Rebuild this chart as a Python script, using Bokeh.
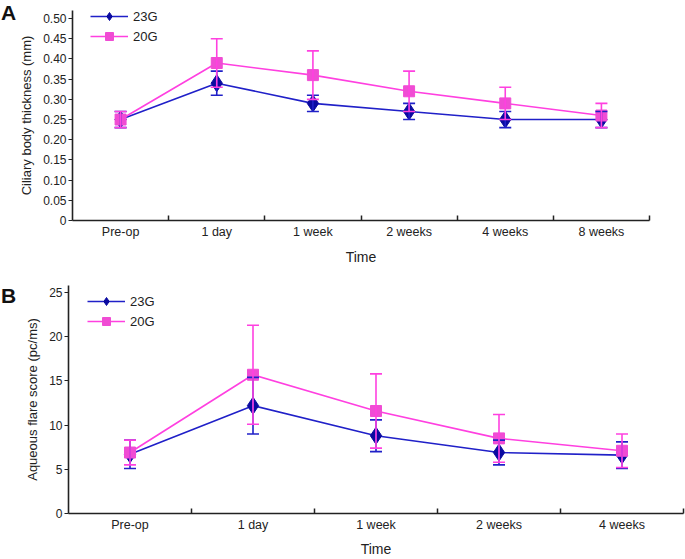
from bokeh.plotting import figure
from bokeh.models import (ColumnDataSource, Whisker, TeeHead, FixedTicker, Range1d,
                          Legend, LegendItem, CustomJSTickFormatter, Div)
from bokeh.layouts import column, row
from bokeh.embed import file_html
from bokeh.resources import INLINE

# ---------------- data ----------------
cats_a = ["Pre-op", "1 day", "1 week", "2 weeks", "4 weeks", "8 weeks"]
a_23g = [0.25, 0.34, 0.29, 0.27, 0.25, 0.25]
a_23g_err = [0.02, 0.03, 0.02, 0.02, 0.02, 0.02]
a_20g = [0.25, 0.39, 0.36, 0.32, 0.29, 0.26]
a_20g_err = [0.02, 0.06, 0.06, 0.05, 0.04, 0.03]
a_yticks = [0, 0.05, 0.10, 0.15, 0.20, 0.25, 0.30, 0.35, 0.40, 0.45, 0.50]

cats_b = ["Pre-op", "1 day", "1 week", "2 weeks", "4 weeks"]
b_23g = [6.7, 12.2, 8.8, 6.9, 6.6]
b_23g_err = [1.6, 3.2, 1.8, 1.4, 1.5]
b_20g = [6.9, 15.7, 11.6, 8.5, 7.1]
b_20g_err = [1.4, 5.6, 4.2, 2.7, 1.9]
b_yticks = [0, 5, 10, 15, 20, 25]

BLUE_LINE = "#2020C8"
BLUE_MARK = "#0A0AA0"
PINK_LINE = "#FF40E0"
PINK_MARK = "#F04CD4"
FONT = "Liberation Sans"
LETTER_W = 16


def make_panel(cats, y1, e1, y2, e2, yticks, ymax, ylabel,
               height, b_top, b_bottom, b_left, b_right, fmt_js,
               legend_xy, tick_standoff, label_standoff):
    n = len(cats)
    xs = [i + 0.5 for i in range(n)]
    p = figure(width=685 - LETTER_W, height=height, output_backend="svg",
               toolbar_location=None,
               x_range=Range1d(0, n), y_range=Range1d(0, ymax),
               min_border_top=b_top, min_border_bottom=b_bottom,
               min_border_left=b_left, min_border_right=b_right)
    p.outline_line_color = None
    p.grid.visible = False
    p.background_fill_color = "white"

    s1 = ColumnDataSource(dict(x=xs, y=y1, lo=[a - b for a, b in zip(y1, e1)],
                               hi=[a + b for a, b in zip(y1, e1)]))
    s2 = ColumnDataSource(dict(x=xs, y=y2, lo=[a - b for a, b in zip(y2, e2)],
                               hi=[a + b for a, b in zip(y2, e2)]))

    l1 = p.line("x", "y", source=s1, line_color=BLUE_LINE, line_width=1.6)
    w1 = Whisker(base="x", lower="lo", upper="hi", source=s1, dimension="height",
                 line_color=BLUE_LINE, line_width=1.6, level="glyph",
                 upper_head=TeeHead(size=12, line_color=BLUE_LINE, line_width=1.6),
                 lower_head=TeeHead(size=12, line_color=BLUE_LINE, line_width=1.6))
    p.add_layout(w1)
    m1 = p.scatter("x", "y", source=s1, marker="diamond", size=17,
                   fill_color=BLUE_MARK, line_color=BLUE_MARK)

    l2 = p.line("x", "y", source=s2, line_color=PINK_LINE, line_width=1.6)
    w2 = Whisker(base="x", lower="lo", upper="hi", source=s2, dimension="height",
                 line_color=PINK_LINE, line_width=1.6, level="glyph",
                 upper_head=TeeHead(size=12, line_color=PINK_LINE, line_width=1.6),
                 lower_head=TeeHead(size=12, line_color=PINK_LINE, line_width=1.6))
    p.add_layout(w2)
    m2 = p.scatter("x", "y", source=s2, marker="square", size=11,
                   fill_color=PINK_MARK, line_color=PINK_MARK)

    # x axis: labels at centres, tick marks at category boundaries
    xa = p.xaxis[0]
    xa.ticker = FixedTicker(ticks=xs, minor_ticks=list(range(1, n + 1)))
    xa.major_label_overrides = {x: c for x, c in zip(xs, cats)}
    xa.major_tick_line_color = None
    xa.major_tick_out = 0
    xa.major_tick_in = 0
    xa.minor_tick_line_color = "#222222"
    xa.minor_tick_line_width = 1.5
    xa.minor_tick_in = 5
    xa.minor_tick_out = 0
    xa.axis_line_color = "#222222"
    xa.axis_line_width = 1.6
    xa.major_label_text_font = FONT
    xa.major_label_text_font_size = "12.5px"
    xa.major_label_text_color = "#222222"
    xa.major_label_standoff = tick_standoff
    xa.axis_label = "Time"
    xa.axis_label_text_font = FONT
    xa.axis_label_text_font_style = "normal"
    xa.axis_label_text_font_size = "14px"
    xa.axis_label_text_color = "#222222"
    xa.axis_label_standoff = label_standoff

    ya = p.yaxis[0]
    ya.ticker = FixedTicker(ticks=yticks, minor_ticks=[])
    ya.formatter = CustomJSTickFormatter(code=fmt_js)
    ya.major_tick_out = 4
    ya.major_tick_in = 0
    ya.major_tick_line_color = "#222222"
    ya.major_tick_line_width = 1.2
    ya.axis_line_color = "#222222"
    ya.axis_line_width = 1.6
    ya.major_label_text_font = FONT
    ya.major_label_text_font_size = "12px"
    ya.major_label_text_color = "#222222"
    ya.major_label_standoff = 2
    ya.axis_label = ylabel
    ya.axis_label_text_font = FONT
    ya.axis_label_text_font_style = "normal"
    ya.axis_label_text_font_size = "13px"
    ya.axis_label_text_color = "#222222"
    ya.axis_label_standoff = 6

    legend = Legend(items=[LegendItem(label="23G", renderers=[l1, m1]),
                           LegendItem(label="20G", renderers=[l2, m2])],
                    location=legend_xy, padding=0, spacing=0, margin=0,
                    glyph_width=38, glyph_height=20, label_height=20,
                    label_standoff=5, label_text_font=FONT,
                    label_text_font_size="13px", label_text_color="#222222",
                    border_line_color=None, background_fill_alpha=0)
    p.add_layout(legend)
    return p


def letter(txt, height, top_pad):
    return Div(text=txt, width=LETTER_W, height=height,
               styles={"font-family": FONT, "font-weight": "bold",
                       "font-size": "21px", "line-height": "26px",
                       "color": "#111111", "padding-top": f"{top_pad}px",
                       "padding-left": "1px", "margin": "0"})


pa = make_panel(cats_a, a_23g, a_23g_err, a_20g, a_20g_err, a_yticks, 0.52,
                "Ciliary body thickness (mm)",
                height=280, b_top=10, b_bottom=60, b_left=69 - LETTER_W, b_right=36,
                fmt_js="return tick == 0 ? '0' : tick.toFixed(2);",
                legend_xy=(18, 174), tick_standoff=4, label_standoff=7)

pb = make_panel(cats_b, b_23g, b_23g_err, b_20g, b_20g_err, b_yticks, 25.8,
                "Aqueous flare score (pc/ms)",
                height=279, b_top=5, b_bottom=44, b_left=68 - LETTER_W, b_right=2,
                fmt_js="return tick.toFixed(0);",
                legend_xy=(19, 182), tick_standoff=4, label_standoff=6)

layout = column(row(letter("A", 280, 0), pa, spacing=0),
                row(letter("B", 279, 3), pb, spacing=0), spacing=0)
open("out.html", "w").write(file_html(layout, INLINE))
